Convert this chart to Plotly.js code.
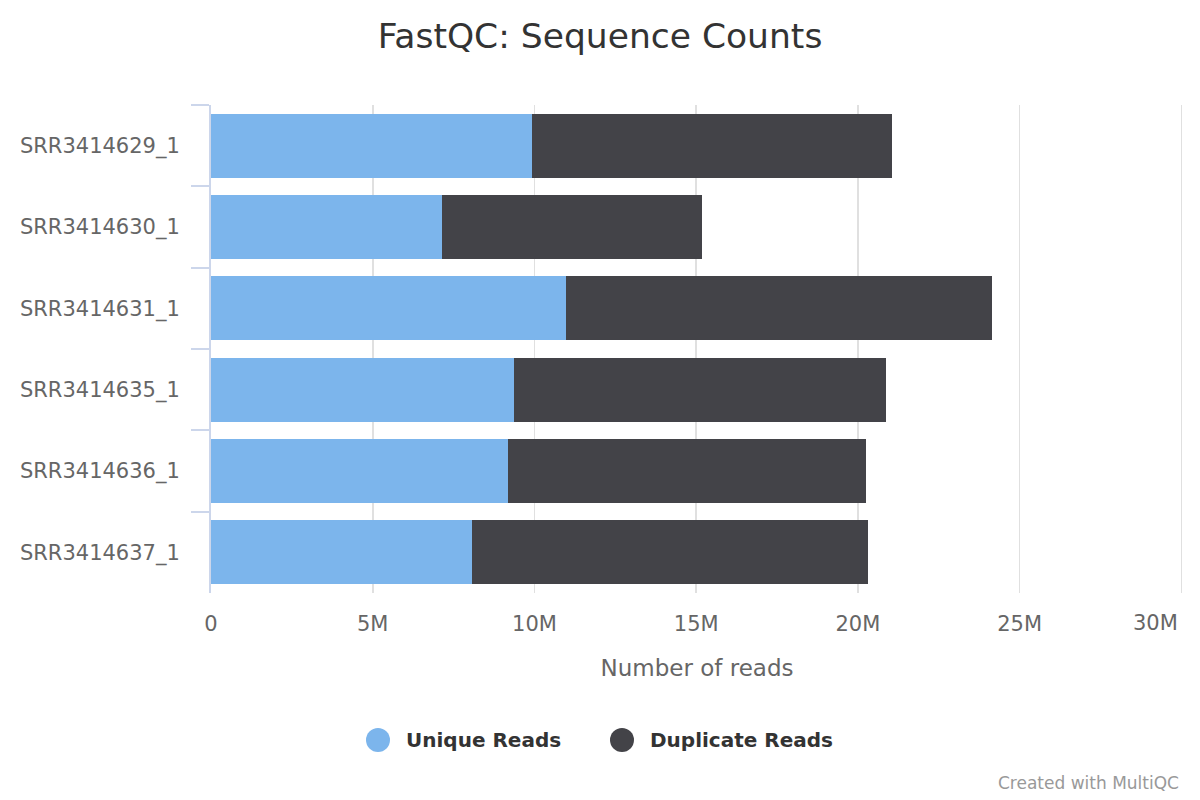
<!DOCTYPE html>
<html>
<head>
<meta charset="utf-8">
<script src="https://cdn.plot.ly/plotly-3.0.1.min.js"></script>
<style>html,body{margin:0;padding:0;background:#fff;}#chart{width:1200px;height:800px;}</style>
</head>
<body>
<div id="chart"></div>
<script>
// Data
const samples = ["SRR3414629_1", "SRR3414630_1", "SRR3414631_1", "SRR3414635_1", "SRR3414636_1", "SRR3414637_1"];
const uniqueReads = [9.91e6, 7.13e6, 10.97e6, 9.36e6, 9.17e6, 8.06e6];
const duplicateReads = [11.14e6, 8.04e6, 13.18e6, 11.51e6, 11.08e6, 12.25e6];
const xTickValues = [0, 5e6, 10e6, 15e6, 20e6, 25e6, 30e6];
const xTickLabels = ["0", "5M", "10M", "15M", "20M", "25M", "30M"];
const seriesNames = ["Unique Reads", "Duplicate Reads"];
const seriesColors = ["#7cb5ec", "#434348"];
const chartTitle = "FastQC: Sequence Counts";
const xAxisTitle = "Number of reads";
const creditText = "Created with MultiQC";

const FONT = "DejaVu Sans, Verdana, sans-serif";

// plot area in pixels
const PL = 211, PR = 1183, PT = 105, PB = 593;
const px2x = (px) => (px - PL) / (PR - PL);
const py2y = (py) => (PB - py) / (PB - PT);

const traces = [
  {type: "bar", orientation: "h", name: seriesNames[0], y: samples, x: uniqueReads,
   marker: {color: seriesColors[0], line: {width: 0}}, showlegend: false},
  {type: "bar", orientation: "h", name: seriesNames[1], y: samples, x: duplicateReads,
   marker: {color: seriesColors[1], line: {width: 0}}, showlegend: false}
];

const lastIdx = xTickLabels.length - 1;
// the last tick label is justified inside the chart (as in the original), drawn as an annotation
const xTickText = xTickLabels.map((t, i) => i === lastIdx ? "" : t);

const shapes = [];
const annotations = [];
annotations.push({xref: "x", yref: "paper", x: xTickValues[lastIdx], y: py2y(623), xanchor: "right", yanchor: "middle",
  xshift: -1, showarrow: false, text: xTickLabels[lastIdx], font: {family: FONT, size: 21, color: "#666666"}});

// custom legend (circle markers + bold labels)
const legendPy = 740;
const legendItems = [{cx: 378, tx: 404}, {cx: 622, tx: 648}];
legendItems.forEach((it, i) => {
  shapes.push({type: "circle", xref: "paper", yref: "paper", xsizemode: "pixel", ysizemode: "pixel",
    xanchor: px2x(it.cx), yanchor: py2y(legendPy), x0: -12, x1: 12, y0: -12, y1: 12,
    fillcolor: seriesColors[i], line: {width: 0}});
  annotations.push({xref: "paper", yref: "paper", x: px2x(it.tx), y: py2y(legendPy),
    xanchor: "left", yanchor: "middle", showarrow: false, text: "<b>" + seriesNames[i] + "</b>",
    font: {family: FONT, size: 20, color: "#333333"}});
});
annotations.push({xref: "paper", yref: "paper", x: px2x(1181), y: py2y(783), yanchor: "middle", xanchor: "right",
  showarrow: false, text: creditText, font: {family: FONT, size: 17, color: "#999999"}});

const layout = {
  width: 1200, height: 800,
  paper_bgcolor: "#ffffff", plot_bgcolor: "#ffffff",
  margin: {l: PL, r: 1200 - PR, t: PT, b: 800 - PB, autoexpand: false},
  font: {family: FONT, color: "#666666"},
  title: {text: chartTitle, x: 0.5, xref: "container", y: 1 - 36 / 800, yref: "container", yanchor: "middle",
    font: {family: FONT, size: 34.5, color: "#333333"}},
  barmode: "stack",
  bargap: 0.21,
  showlegend: false,
  xaxis: {
    range: [0, 30.05e6], tickmode: "array", tickvals: xTickValues, ticktext: xTickText,
    showgrid: true, gridcolor: "#e0e0e0", gridwidth: 1.6, zeroline: false, showline: false,
    ticks: "", tickfont: {family: FONT, size: 21, color: "#666666"},
    ticklabelstandoff: 16,
    title: {text: xAxisTitle, font: {family: FONT, size: 23, color: "#666666"}, standoff: 24},
    automargin: false, fixedrange: true
  },
  yaxis: {
    autorange: "reversed", type: "category",
    showline: true, linecolor: "#ccd6eb", linewidth: 2,
    ticks: "outside", tickson: "boundaries", ticklen: 18, tickwidth: 2, tickcolor: "#ccd6eb",
    showgrid: false, zeroline: false,
    tickfont: {family: FONT, size: 21, color: "#666666"},
    ticklabelstandoff: 25,
    automargin: false, fixedrange: true
  },
  shapes: shapes,
  annotations: annotations
};

Plotly.newPlot("chart", traces, layout, {displayModeBar: false, staticPlot: true});
</script>
</body>
</html>
